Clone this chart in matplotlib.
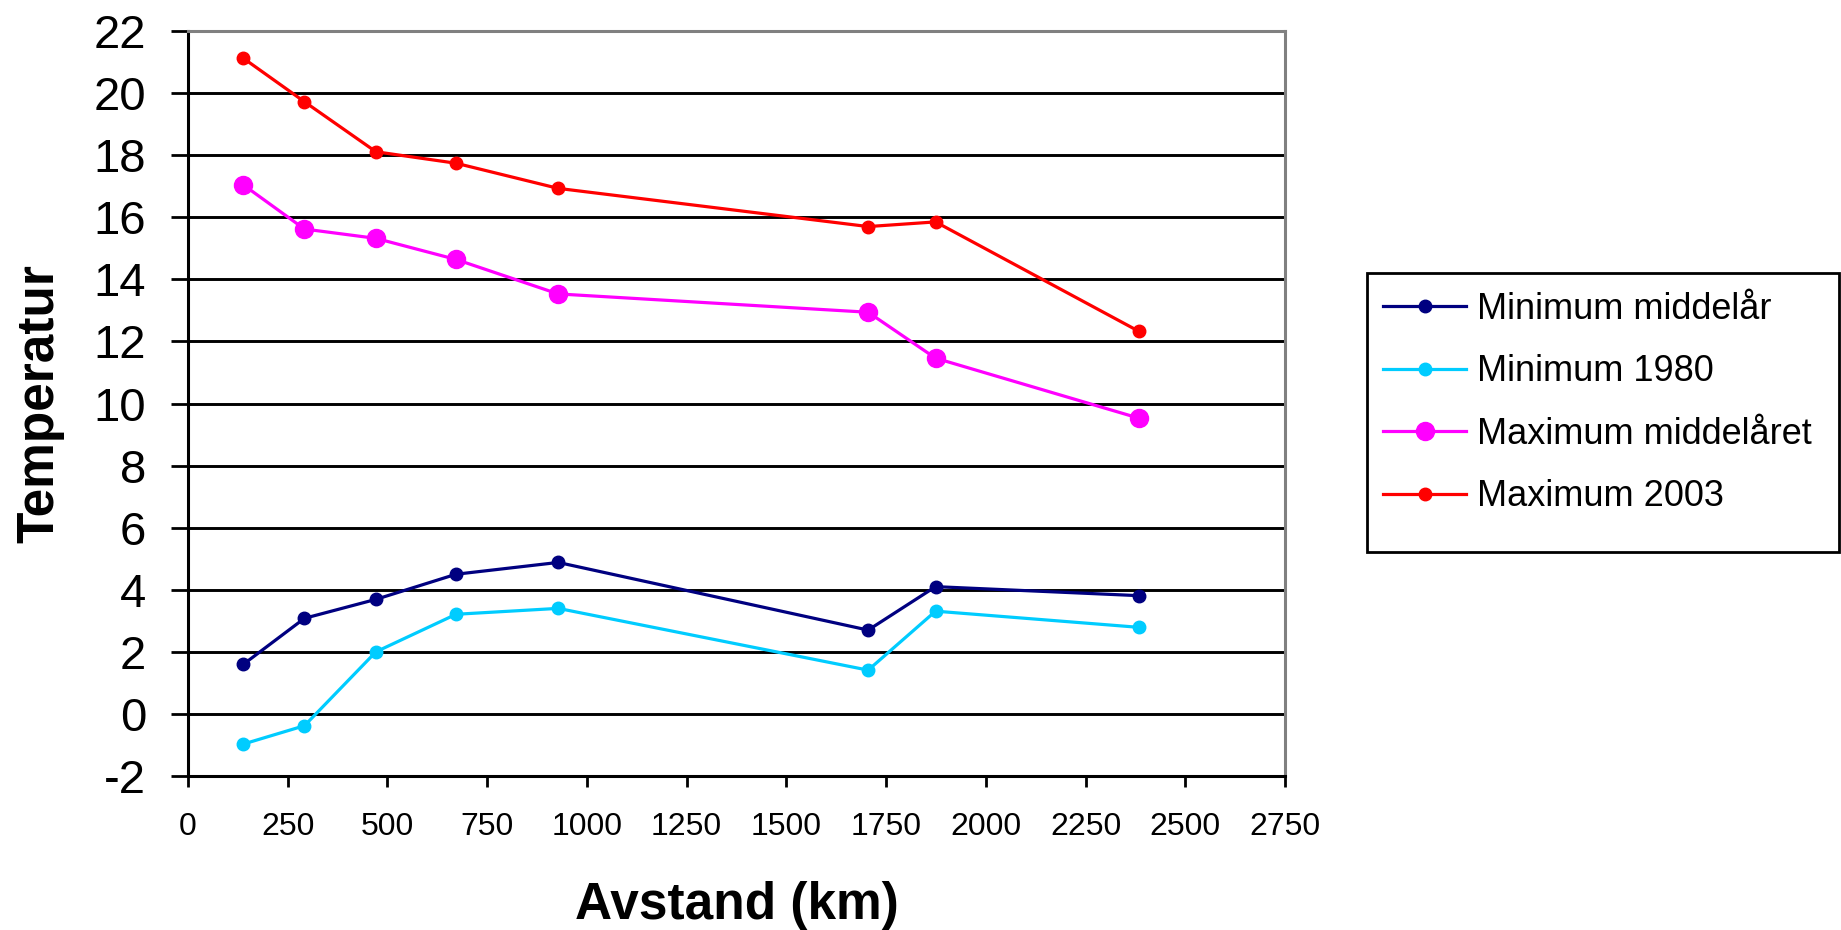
import matplotlib
matplotlib.use('Agg')
import matplotlib.pyplot as plt
from matplotlib.patches import Rectangle

# Data
avstand_km = [139, 292, 471, 672, 928, 1705, 1874, 2383]
min_middelaar = [1.60, 3.08, 3.69, 4.50, 4.88, 2.70, 4.10, 3.81]
min_1980 = [-0.97, -0.38, 2.00, 3.21, 3.40, 1.41, 3.31, 2.79]
max_middelaaret = [17.04, 15.62, 15.32, 14.64, 13.53, 12.94, 11.46, 9.53]
max_2003 = [21.12, 19.72, 18.11, 17.74, 16.93, 15.70, 15.85, 12.33]

x_ticks = list(range(0, 2751, 250))
y_ticks = list(range(-2, 23, 2))

plt.rcParams['font.family'] = ['Liberation Sans', 'DejaVu Sans']
plt.rcParams['axes.unicode_minus'] = False

W, H = 1841, 930
fig = plt.figure(figsize=(W / 100, H / 100), dpi=100, facecolor='white')
ax = fig.add_axes([188 / W, 1 - 776 / H, (1285 - 188) / W, (776 - 31) / H])

lw = 2.3
ax.plot(avstand_km, min_middelaar, color='#000080', lw=lw, marker='o', ms=9,
        label='Minimum middelår')
ax.plot(avstand_km, min_1980, color='#00CCFF', lw=lw, marker='o', ms=9,
        label='Minimum 1980')
ax.plot(avstand_km, max_middelaaret, color='#FF00FF', lw=lw, marker='o', ms=13,
        label='Maximum middelåret')
ax.plot(avstand_km, max_2003, color='#FF0000', lw=lw, marker='o', ms=9,
        label='Maximum 2003')

ax.set_xlim(0, 2750)
ax.set_ylim(-2, 22)
ax.set_xticks(x_ticks)
ax.set_yticks(y_ticks)

ax.grid(True, axis='y', color='black', lw=2.1)
ax.set_axisbelow(True)

# Spines
for side in ['left', 'bottom']:
    ax.spines[side].set_color('black')
    ax.spines[side].set_linewidth(2.2)
for side in ['top', 'right']:
    ax.spines[side].set_color('#808080')
    ax.spines[side].set_linewidth(2.2)

ax.tick_params(axis='y', direction='out', length=12, width=2, labelsize=34, pad=18)
ax.tick_params(axis='x', direction='out', length=8, width=2, labelsize=23, pad=18)

ax.set_xlabel('Avstand (km)', fontsize=37, fontweight='bold', labelpad=28)
ax.set_ylabel('Temperatur', fontsize=37, fontweight='bold', labelpad=21)

# Legend without its own frame; box drawn separately (extra room at the bottom)
leg = fig.legend(loc='center left', bbox_to_anchor=(1367 / W, 1 - 403 / H),
                 fontsize=26, frameon=False,
                 handlelength=2.3, handletextpad=0.3, labelspacing=0.76,
                 borderpad=0.45, borderaxespad=0)
fig.patches.append(Rectangle((1367 / W, 1 - 552 / H), (1839 - 1367) / W, (552 - 273) / H,
                             transform=fig.transFigure, fill=False,
                             edgecolor='black', lw=2))

fig.savefig('out.png', dpi=100, facecolor='white')
